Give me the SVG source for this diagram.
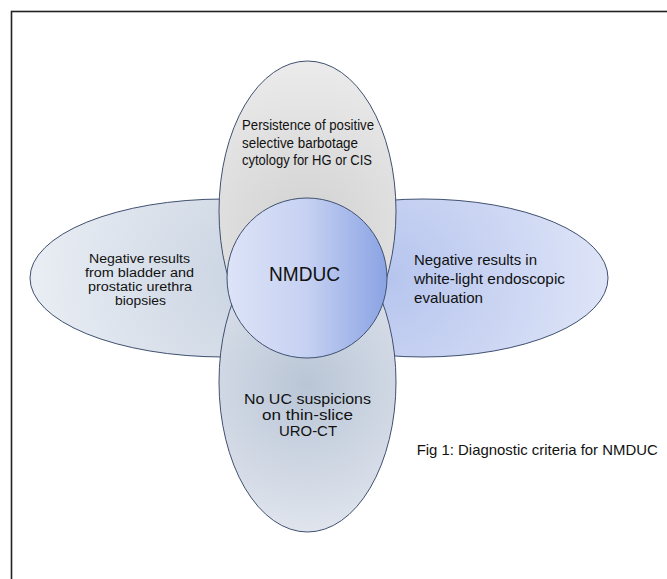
<svg xmlns="http://www.w3.org/2000/svg" width="667" height="579" viewBox="0 0 667 579">
<defs>
<radialGradient id="gLeft" gradientUnits="userSpaceOnUse" cx="250" cy="278" r="230">
<stop offset="0" stop-color="#c9d3e1"/><stop offset="1" stop-color="#ebeff5"/>
</radialGradient>
<radialGradient id="gRight" gradientUnits="userSpaceOnUse" cx="390" cy="278" r="230">
<stop offset="0" stop-color="#b7c5ee"/><stop offset="1" stop-color="#e0e6f8"/>
</radialGradient>
<radialGradient id="gTop" gradientUnits="userSpaceOnUse" cx="307" cy="230" r="175">
<stop offset="0" stop-color="#d1d1d1"/><stop offset="1" stop-color="#ececec"/>
</radialGradient>
<radialGradient id="gBottom" gradientUnits="userSpaceOnUse" cx="307" cy="385" r="160">
<stop offset="0" stop-color="#b9c5d6"/><stop offset="1" stop-color="#e3e7ef"/>
</radialGradient>
<linearGradient id="gCenter" gradientUnits="userSpaceOnUse" x1="227" y1="0" x2="387" y2="0">
<stop offset="0" stop-color="#dde3f7"/><stop offset="0.5" stop-color="#c6d1f2"/><stop offset="1" stop-color="#8aa3e4"/>
</linearGradient>
</defs>
<style>
.shape{stroke:#3f506f;stroke-width:1}
.t{font-family:"Liberation Sans",Arial,sans-serif;fill:#111}
.s12{font-size:12.5px}
.s14{font-size:14px}
.s15{font-size:15px}
.c{text-anchor:middle}
</style>
<rect x="11.5" y="11.5" width="700" height="620" fill="#fff" stroke="#222" stroke-width="1.6"/>
<g id="connectors"></g>
<g id="node-left">
<ellipse class="shape" cx="224" cy="278" rx="194" ry="79" fill="url(#gLeft)"/>
<text class="t s12 c" x="139.5" y="262.5" textLength="101" lengthAdjust="spacingAndGlyphs">Negative results</text>
<text class="t s12 c" x="139.5" y="276.5" textLength="109" lengthAdjust="spacingAndGlyphs">from bladder and</text>
<text class="t s12 c" x="140" y="290.5" textLength="104" lengthAdjust="spacingAndGlyphs">prostatic urethra</text>
<text class="t s12 c" x="140.5" y="304.5" textLength="51" lengthAdjust="spacingAndGlyphs">biopsies</text>
</g>
<g id="node-right">
<ellipse class="shape" cx="423" cy="278" rx="185" ry="79" fill="url(#gRight)"/>
<text class="t s15" x="414" y="264.5" textLength="123" lengthAdjust="spacingAndGlyphs">Negative results in</text>
<text class="t s15" x="414" y="283.5" textLength="151" lengthAdjust="spacingAndGlyphs">white-light endoscopic</text>
<text class="t s15" x="414" y="302.5" textLength="69" lengthAdjust="spacingAndGlyphs">evaluation</text>
</g>
<g id="node-top">
<ellipse class="shape" cx="307.5" cy="211" rx="88.5" ry="150" fill="url(#gTop)"/>
<text class="t s14" x="242" y="130" textLength="132" lengthAdjust="spacingAndGlyphs">Persistence of positive</text>
<text class="t s14" x="242" y="147.5" textLength="116" lengthAdjust="spacingAndGlyphs">selective barbotage</text>
<text class="t s14" x="242" y="165" textLength="130" lengthAdjust="spacingAndGlyphs">cytology for HG or CIS</text>
</g>
<g id="node-bottom">
<ellipse class="shape" cx="307.5" cy="382" rx="88.5" ry="150" fill="url(#gBottom)"/>
<text class="t s14 c" x="307.5" y="403.5" textLength="127" lengthAdjust="spacingAndGlyphs">No UC suspicions</text>
<text class="t s14 c" x="307.5" y="419.5" textLength="91" lengthAdjust="spacingAndGlyphs">on thin-slice</text>
<text class="t s14 c" x="308" y="435.5" textLength="58" lengthAdjust="spacingAndGlyphs">URO-CT</text>
</g>
<g id="node-center">
<circle class="shape" cx="307" cy="278" r="80" fill="url(#gCenter)"/>
<text class="t c" style="font-size:20px" x="304.5" y="280.6" textLength="71" lengthAdjust="spacingAndGlyphs">NMDUC</text>
</g>
<g id="caption">
<text class="t s15" x="416.7" y="455" textLength="241" lengthAdjust="spacingAndGlyphs">Fig 1: Diagnostic criteria for NMDUC</text>
</g>
</svg>
